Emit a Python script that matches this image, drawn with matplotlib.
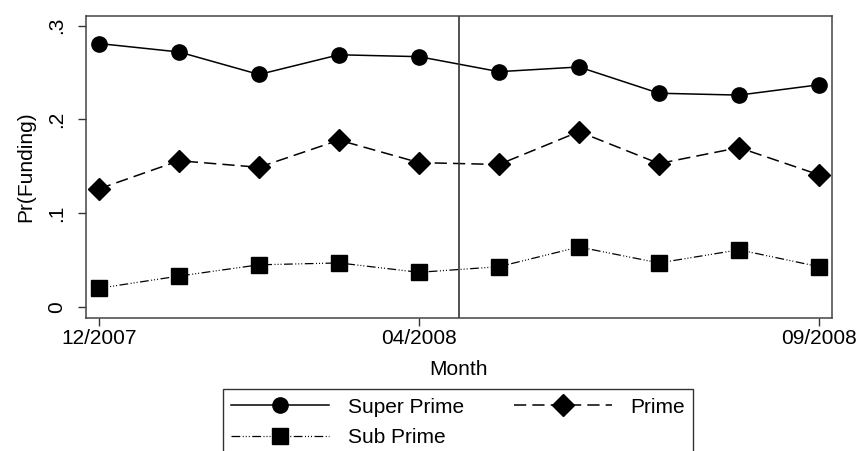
import matplotlib.pyplot as plt
import numpy as np

plt.rcParams['font.family'] = ['Liberation Sans', 'DejaVu Sans']

# --- data ---
months = ['12/2007', '01/2008', '02/2008', '03/2008', '04/2008',
          '05/2008', '06/2008', '07/2008', '08/2008', '09/2008']
super_prime = [0.281, 0.272, 0.248, 0.269, 0.267, 0.251, 0.256, 0.228, 0.226, 0.237]
prime = [0.126, 0.156, 0.149, 0.178, 0.154, 0.152, 0.187, 0.153, 0.170, 0.141]
sub_prime = [0.020, 0.033, 0.045, 0.047, 0.037, 0.043, 0.064, 0.047, 0.061, 0.043]
shown_ticks = ['12/2007', '04/2008', '09/2008']
break_month = 4.5  # vertical line between 04 and 05/2008
y_ticks = [0, 0.1, 0.2, 0.3]
y_labels = ['0', '.1', '.2', '.3']

x = np.arange(len(months))
fs = 15

fig = plt.figure(figsize=(8.57, 4.51), dpi=100)
ax = fig.add_axes([86 / 857, 1 - 317.5 / 451, (831.7 - 86) / 857, (317.5 - 15.5) / 451])

l1, = ax.plot(x, super_prime, color='black', lw=1.1, marker='o', ms=11,
              label='Super Prime')
l2, = ax.plot(x, prime, color='black', lw=1.1, marker='D', ms=11,
              linestyle=(0, (8, 4)), label='Prime')
l3, = ax.plot(x, sub_prime, color='black', lw=0.9, marker='s', ms=11,
              linestyle=(0, (7, 2, 0.8, 1.6, 0.8, 1.6, 0.8, 2)), label='Sub Prime')

ax.axvline(break_month, color='#333333', lw=1.2)

ax.set_xlim(-0.1625, 9.159)
ax.set_ylim(-0.0112, 0.3109)

ax.set_xticks([months.index(m) for m in shown_ticks])
ax.set_xticklabels(shown_ticks)
ax.set_yticks(y_ticks)
ax.set_yticklabels(y_labels, rotation=90, va='center')

ax.tick_params(axis='both', labelsize=fs, length=6, width=1, color='#333333')
ax.tick_params(axis='y', pad=8)
ax.tick_params(axis='x', pad=2)

for s in ax.spines.values():
    s.set_color('#444444')
    s.set_linewidth(1.1)

ax.set_xlabel('Month', fontsize=fs, labelpad=9)
ax.set_ylabel('Pr(Funding)', fontsize=fs, labelpad=9)

leg = fig.legend(handles=[l1, l3, l2], ncol=2, loc='upper left',
                 bbox_to_anchor=(222.7 / 857, 1 - 389.3 / 451), borderaxespad=0,
                 fontsize=fs, handlelength=4.7, handletextpad=0.9, columnspacing=2.4,
                 labelspacing=0.55, borderpad=0.4, fancybox=False, framealpha=1)
leg.get_frame().set_edgecolor('#333333')
leg.get_frame().set_linewidth(1.0)

fig.savefig('out.png', dpi=100)
